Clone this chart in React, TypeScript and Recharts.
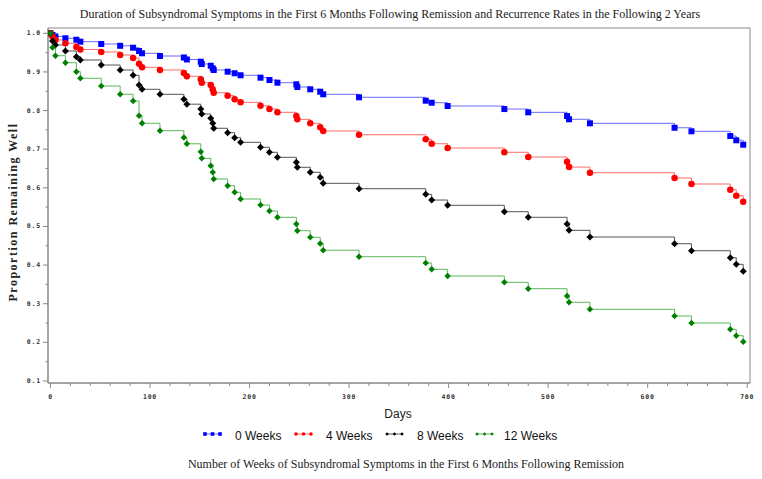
import React from 'react';
import { LineChart, Line, XAxis, YAxis, ReferenceArea } from 'recharts';

const days = [0, 2, 5, 15, 26, 30, 51, 70, 83, 89, 92, 110, 134, 137, 151, 152, 161, 163, 164, 178, 185, 191, 211, 220, 228, 247, 248, 261, 271, 274, 310, 377, 383, 399, 456, 480, 519, 521, 542, 627, 644, 683, 689, 696];

const weeks0 = [1.0, 0.9956, 0.9917, 0.9871, 0.9834, 0.9783, 0.9723, 0.9676, 0.9627, 0.9542, 0.9482, 0.9412, 0.9374, 0.9322, 0.9265, 0.9205, 0.9161, 0.9094, 0.905, 0.9006, 0.8965, 0.8913, 0.8851, 0.8791, 0.8721, 0.868, 0.861, 0.855, 0.8488, 0.8421, 0.8343, 0.8255, 0.8203, 0.8118, 0.8039, 0.7954, 0.7858, 0.7774, 0.767, 0.7555, 0.7463, 0.7341, 0.723, 0.7116];

const weeks4 = [1.0, 0.9917, 0.9827, 0.9741, 0.9646, 0.9581, 0.9516, 0.9438, 0.936, 0.921, 0.912, 0.905, 0.8972, 0.8887, 0.8809, 0.8721, 0.8662, 0.855, 0.8462, 0.8385, 0.8291, 0.8214, 0.8126, 0.804, 0.7955, 0.7859, 0.7773, 0.767, 0.7567, 0.7471, 0.7374, 0.7256, 0.7142, 0.7031, 0.692, 0.6798, 0.6676, 0.6537, 0.6391, 0.6254, 0.6099, 0.5951, 0.5796, 0.5641];

const weeks8 = [1.0, 0.9801, 0.9697, 0.9542, 0.9394, 0.9309, 0.9179, 0.905, 0.8912, 0.8662, 0.855, 0.8421, 0.8291, 0.8165, 0.804, 0.791, 0.78, 0.767, 0.7541, 0.7427, 0.7298, 0.7178, 0.7049, 0.692, 0.679, 0.6661, 0.6531, 0.6402, 0.6272, 0.6117, 0.5977, 0.5832, 0.5684, 0.5547, 0.5382, 0.5237, 0.5063, 0.49, 0.4727, 0.4553, 0.4372, 0.4191, 0.402, 0.3839];

const weeks12 = [1.0, 0.9632, 0.942, 0.9239, 0.9006, 0.8835, 0.8636, 0.8421, 0.8247, 0.7867, 0.767, 0.7479, 0.7303, 0.714, 0.6935, 0.6764, 0.6573, 0.6402, 0.6229, 0.6055, 0.5884, 0.5711, 0.5555, 0.54, 0.5237, 0.5064, 0.489, 0.4719, 0.4559, 0.4385, 0.4217, 0.4054, 0.3891, 0.3717, 0.3554, 0.3389, 0.32, 0.3037, 0.2855, 0.2682, 0.2501, 0.2338, 0.2172, 0.2017];

const xTicks = [0, 20, 40, 60, 80, 100, 120, 140, 160, 180, 200, 220, 240, 260, 280, 300, 320, 340, 360, 380, 400, 420, 440, 460, 480, 500, 520, 540, 560, 580, 600, 620, 640, 660, 680, 700];
const yTicks = [0.1, 0.15, 0.2, 0.25, 0.3, 0.35, 0.4, 0.45, 0.5, 0.55, 0.6, 0.65, 0.7, 0.75, 0.8, 0.85, 0.9, 0.95, 1.0];

const seriesNames = ['0 Weeks', '4 Weeks', '8 Weeks', '12 Weeks'];
const seriesKeys = ['w0', 'w4', 'w8', 'w12'];

const X_DOMAIN: [number, number] = [-2.5, 702.8];
const Y_DOMAIN: [number, number] = [0.0948, 1.0137];

const data = days.map((d, i) => ({ day: d, w0: weeks0[i], w4: weeks4[i], w8: weeks8[i], w12: weeks12[i] }));

const lineColors = ['#6a6aff', '#ff6a6a', '#555555', '#5cb85c'];
const markColors = ['#0000ff', '#ff0000', '#000000', '#008000'];
const shapes = ['square', 'circle', 'diamond', 'diamond'];

const Marker = ({ cx, cy, shape, color, size }: any) => {
  const h = size / 2;
  if (shape === 'square') return <rect x={cx - h} y={cy - h} width={size} height={size} fill={color} />;
  if (shape === 'circle') return <circle cx={cx} cy={cy} r={h} fill={color} />;
  return <polygon points={`${cx},${cy - h} ${cx + h},${cy} ${cx},${cy + h} ${cx - h},${cy}`} fill={color} />;
};

const makeDot = (idx: number) => (p: any) => {
  if (p.cx == null || p.cy == null) return <g key={`n${idx}-${p.index}`} />;
  const size = shapes[idx] === 'square' ? 6 : shapes[idx] === 'circle' ? 6.5 : idx === 3 ? 6.5 : 7;
  return (
    <g key={`d${idx}-${p.index}`}>
      <Marker cx={p.cx} cy={p.cy} shape={shapes[idx]} color={markColors[idx]} size={size} />
    </g>
  );
};

const tickFont = { fontFamily: 'DejaVu Sans Mono', fontSize: 6.5, fontWeight: 700, fill: '#333', letterSpacing: 0.8 };

const XTick = (props: any) => {
  const { x, y, payload } = props;
  const v = payload.value;
  const major = v % 100 === 0;
  return (
    <g>
      <line x1={x} x2={x} y1={y} y2={y + (major ? 5 : 3)} stroke="#888" />
      {major && (
        <text x={x} y={y + 14} textAnchor="middle" dominantBaseline="central" style={tickFont as any}>
          {String(v)}
        </text>
      )}
    </g>
  );
};

const YTick = (props: any) => {
  const { x, y, payload } = props;
  const v = payload.value;
  const major = Math.abs(v * 10 - Math.round(v * 10)) < 1e-6;
  return (
    <g>
      <line x1={x} x2={x - (major ? 5 : 2.5)} y1={y} y2={y} stroke="#888" />
      {major && (
        <text x={x - 7} y={y} textAnchor="end" dominantBaseline="central" style={tickFont as any}>
          {v.toFixed(1)}
        </text>
      )}
    </g>
  );
};

const legendX = [205, 296, 387, 477];
const legendTextX = [235, 326, 417, 504];

export default function App() {
  return (
    <div style={{ position: 'absolute', left: 0, top: 0, width: 762, height: 479, background: '#fff' }}>
      <LineChart width={762} height={479} data={data} margin={{ top: 28, right: 12, bottom: 56, left: 8 }}>
        <ReferenceArea x1={X_DOMAIN[0]} x2={X_DOMAIN[1]} y1={Y_DOMAIN[0]} y2={Y_DOMAIN[1]} fill="none" stroke="#888" strokeWidth={1} ifOverflow="visible" />
        <XAxis
          type="number"
          dataKey="day"
          domain={X_DOMAIN}
          ticks={xTicks}
          interval={0}
          allowDataOverflow
          tickSize={0}
          tickMargin={0}
          tickLine={false}
          tick={<XTick />}
          axisLine={{ stroke: '#888' }}
          height={40}
        />
        <YAxis
          type="number"
          domain={Y_DOMAIN}
          ticks={yTicks}
          interval={0}
          allowDataOverflow
          tickSize={0}
          tickMargin={0}
          tickLine={false}
          tick={<YTick />}
          axisLine={{ stroke: '#888' }}
          width={40}
        />
        {seriesKeys.map((k, i) => (
          <Line
            key={k}
            dataKey={k}
            name={seriesNames[i]}
            type="stepAfter"
            stroke={lineColors[i]}
            strokeWidth={1}
            dot={makeDot(i)}
            activeDot={false}
            isAnimationActive={false}
          />
        ))}
      </LineChart>
      <svg width={762} height={479} style={{ position: 'absolute', left: 0, top: 0, pointerEvents: 'none' }}>
        <text x={390} y={14} textAnchor="middle" dominantBaseline="central" style={{ fontFamily: 'Liberation Serif', fontSize: 12, fill: '#222' }}>
          Duration of Subsyndromal Symptoms in the First 6 Months Following Remission and Recurrence Rates in the Following 2 Years
        </text>
        <text
          x={13}
          y={212}
          transform="rotate(-90 13 212)"
          textAnchor="middle"
          dominantBaseline="central"
          style={{ fontFamily: 'Liberation Serif', fontSize: 12, fontWeight: 700, letterSpacing: 1.5, fill: '#222' }}
        >
          Proportion Remaining Well
        </text>
        <text x={398} y={414} textAnchor="middle" dominantBaseline="central" style={{ fontFamily: 'Liberation Sans', fontSize: 12, fill: '#222' }}>
          Days
        </text>
        {seriesNames.map((n, i) => (
          <g key={n}>
            <line x1={legendX[i]} x2={legendX[i] + 15} y1={434} y2={434} stroke={lineColors[i]} />
            {[0, 7.5, 15].map((o) => (
              <Marker key={o} cx={legendX[i] + o} cy={434} shape={shapes[i]} color={markColors[i]} size={3.6} />
            ))}
            <text x={legendTextX[i]} y={436} dominantBaseline="central" style={{ fontFamily: 'Liberation Sans', fontSize: 12, fill: '#111' }}>
              {n}
            </text>
          </g>
        ))}
        <text x={406} y={463.5} textAnchor="middle" dominantBaseline="central" style={{ fontFamily: 'Liberation Serif', fontSize: 12, fill: '#222' }}>
          Number of Weeks of Subsyndromal Symptoms in the First 6 Months Following Remission
        </text>
      </svg>
    </div>
  );
}
